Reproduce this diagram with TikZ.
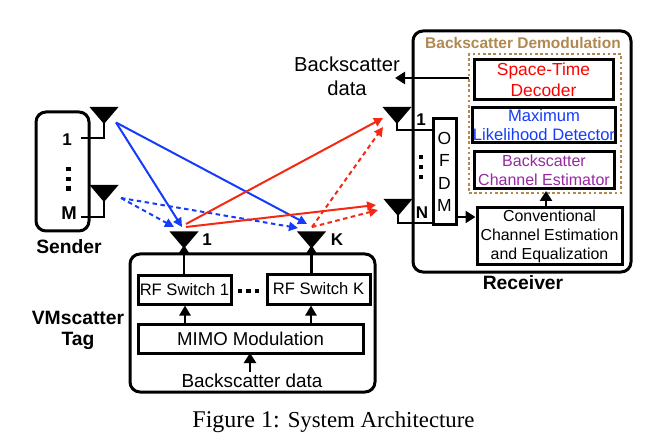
\documentclass[tikz,border=0pt]{standalone}
\usepackage{fontspec}
\setmainfont{Liberation Sans}
\newfontfamily\capfont{Liberation Serif}
\usetikzlibrary{arrows.meta}
\definecolor{linkblue}{RGB}{20,60,250}
\definecolor{linkred}{RGB}{245,40,20}
\definecolor{brownlab}{RGB}{176,136,80}
\definecolor{purplab}{RGB}{150,40,160}
\newcommand{\fs}[1]{\fontsize{#1}{#1}\selectfont}
\tikzset{
  x=1pt,y=-1pt,
  outerbox/.style={draw=black,line width=3pt,rounded corners=10pt,inner sep=0pt},
  innerbox/.style={draw=black,line width=3pt,inner sep=0pt,align=center},
  lab/.style={inner sep=0pt,align=center},
  boldlab/.style={lab,font=\fs{19.3}\bfseries},
  wire/.style={line width=2.6pt,draw=black},
  feed/.style={line width=2.6pt,draw=black,-{Triangle[length=10pt,width=12pt]}},
  thinfeed/.style={line width=2.6pt,draw=black,-{Triangle[length=10pt,width=11pt]}},
  blue link/.style={line width=2pt,draw=linkblue,-{Triangle[length=9pt,width=9pt]}},
  red link/.style={line width=2pt,draw=linkred,-{Triangle[length=9pt,width=9pt]}},
  dash link/.style={dash pattern=on 4.5pt off 3.5pt},
  antshape/.style={fill=black,draw=none},
  dotmark/.style={fill=black,draw=none,inner sep=0pt,minimum size=4.6pt},
}
\newcommand{\antenna}[2]{% top-centre x, top y
  \fill[antshape] (#1-14.5,#2) -- (#1+14.5,#2) -- (#1,#2+17) -- cycle;}
\begin{document}
\begin{tikzpicture}
\useasboundingbox (0,0) rectangle (660,443);
% boxes
\node[outerbox,minimum width=53pt,minimum height=119pt] (sender) at (62.5,171.5) {};
\node[outerbox,minimum width=245pt,minimum height=138pt] (tag) at (252.5,323) {};
\node[outerbox,minimum width=218pt,minimum height=241pt] (rx) at (522,151.5) {};
\node[draw=brownlab,line width=2.8pt,dash pattern=on 2.6pt off 2.6pt,inner sep=0pt,minimum width=152pt,minimum height=139pt] (demod) at (545,123.5) {};
% sender
\node[lab,font=\fs{17}\bfseries] (s1) at (67,140) {1};
\node[lab,font=\fs{18.5}\bfseries] (sM) at (69,213) {M};
\foreach \y in {169,179,188.5} \node[dotmark] at (68.5,\y) {};
\node[boldlab] (sendlab) at (69,247) {Sender};
\antenna{104}{107}
\antenna{104}{185}
\coordinate (sa1) at (104,120);
\coordinate (sa2) at (104,198);
\coordinate (sa1c) at (104,138);
\coordinate (sa2c) at (104,217);
\coordinate (sa1e) at (81,138);
\coordinate (sa2e) at (81,217);
\draw[wire,line join=miter] (sa1) -- (sa1c) -- (sa1e);
\draw[wire,line join=miter] (sa2) -- (sa2c) -- (sa2e);
% tag
\node[innerbox,minimum width=93pt,minimum height=29pt,font=\fs{16.6}] (rf1) at (184.5,289.5) {RF Switch 1};
\node[innerbox,minimum width=103pt,minimum height=30pt,font=\fs{16.6}] (rfk) at (318.5,289) {RF Switch K};
\node[innerbox,minimum width=225pt,minimum height=29pt,font=\fs{18.6}] (mimo) at (250.5,338.5) {MIMO Modulation};
\node[lab,font=\fs{18.9}] (bd) at (252,381) {Backscatter data};
\foreach \x in {240,248.5,257} \node[dotmark] at (\x,291) {};
\node[boldlab] (vm) at (78,318) {VMscatter};
\node[boldlab] (tl) at (78,341) {Tag};
\antenna{184}{231.5}
\antenna{311.5}{231.5}
\coordinate (ta1) at (184,245);
\coordinate (tak) at (311.5,245);
\node[lab,font=\fs{17}\bfseries] (t1) at (207,240) {1};
\node[lab,font=\fs{17}\bfseries] (tk) at (337,240) {K};
\draw[feed] (rf1.north -| ta1) -- (ta1);
\draw[feed] (rfk.north -| tak) -- (tak);
\coordinate (m1) at (185,324);
\coordinate (mk) at (311,324);
\draw[thinfeed] (m1) -- (m1 |- rf1.south);
\draw[thinfeed] (mk) -- (mk |- rfk.south);
\draw[feed] (250,372) -- (250,353);
% receiver
\node[lab,font=\fs{15.5}\bfseries,text=brownlab] (demlab) at (523,43) {Backscatter Demodulation};
\node[innerbox,minimum width=139pt,minimum height=40pt,font=\fs{17.4},text=red] (st) at (543.5,80) {Space-Time\\[3.5pt]Decoder};
\node[innerbox,minimum width=140pt,minimum height=35pt,font=\fs{16.6},text=linkblue] (ml) at (544,125.5) {Maximum\\[2.5pt]Likelihood Detector};
\node[innerbox,minimum width=140pt,minimum height=37pt,font=\fs{16},text=purplab] (ce) at (544,170.5) {Backscatter\\[3pt]Channel Estimator};
\node[innerbox,minimum width=145pt,minimum height=56pt,font=\fs{15.9}] (cc) at (549.5,236) {Conventional\\[3.2pt]Channel Estimation\\[3.2pt]and Equalization};
\node[innerbox,minimum width=23pt,minimum height=106pt,font=\fs{17.5},align=center] (ofdm) at (444.5,172) {O\\[5pt]F\\[5pt]D\\[5pt]M};
\node[lab,font=\fs{20.2}] (bdout) at (347,76.5) {Backscatter\\[4pt]data};
\node[boldlab] (rl) at (523,283) {Receiver};
\node[lab,font=\fs{17}\bfseries] (r1) at (421,120) {1};
\node[lab,font=\fs{17}\bfseries] (rn) at (422,213) {N};
\foreach \y in {157,167,177} \node[dotmark] at (421,\y) {};
\antenna{397}{107}
\antenna{398}{199}
\coordinate (ra1) at (397,120);
\coordinate (ran) at (398,212);
\draw[wire,line join=miter] (ra1) -- (397,130) -- (432,130);
\draw[wire,line join=miter] (ran) -- (398,223) -- (433,223);
\coordinate (dout) at (395,78);
\coordinate (dbox) at (469,78);
\draw[feed] (dbox) -- (dout);
\draw[feed] (ofdm.east |- 0,217) -- (cc.west |- 0,217);
\draw[feed] (546,208) -- (546,191);
% wireless links
\coordinate (bs1) at (116,122.5);
\coordinate (bs2) at (121,198);
\coordinate (rt1) at (186,224);
\coordinate (rt2) at (186,227);
\coordinate (rtk) at (312,227);
\draw[blue link] (bs1) -- (182,227);
\draw[blue link] (bs1) -- (307,224);
\draw[blue link,dash link] (bs2) -- (174,227);
\draw[blue link,dash link] (bs2) -- (298,228);
\draw[red link] (rt1) -- (383,118);
\draw[red link] (rt2) -- (376,205);
\draw[red link,dash link] (rtk) -- (383,127);
\draw[red link,dash link] (rtk) -- (378,210);
% caption
\node[lab,font=\capfont] (cap) at (333.5,422) {\fs{24}Figure 1: \fs{22.8}System Architecture};
\end{tikzpicture}
\end{document}
